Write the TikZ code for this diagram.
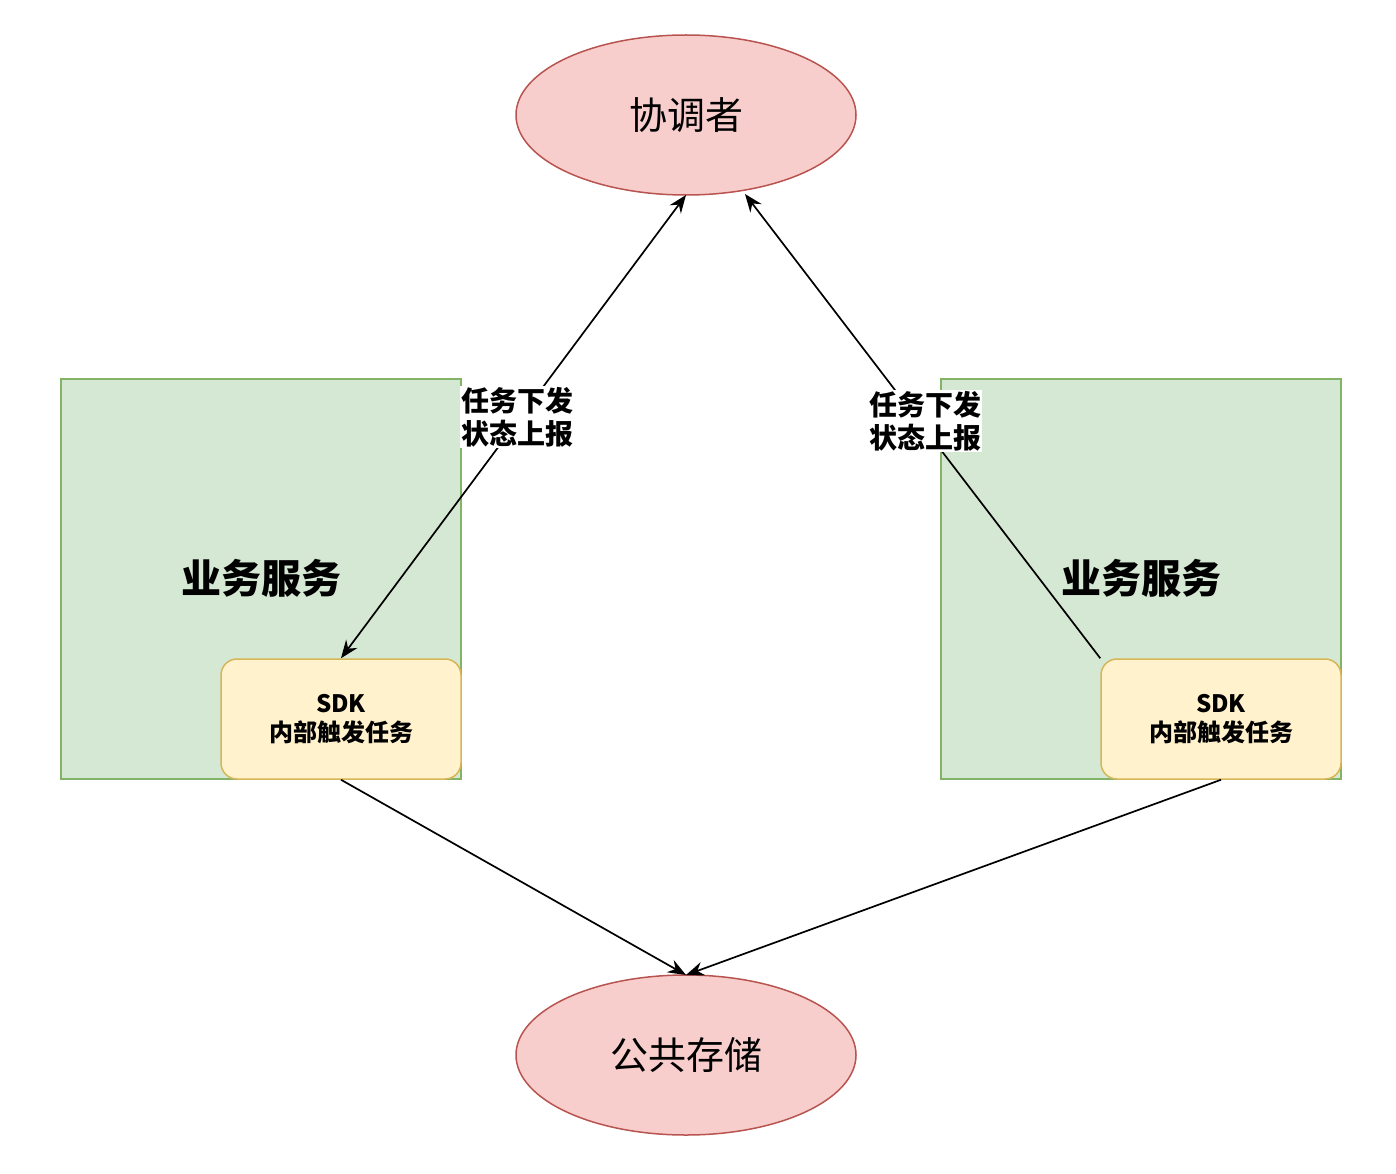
\documentclass[tikz,border=0pt]{standalone}
\usepackage{fontspec}
\setmainfont{Noto Sans CJK SC}
\newfontfamily\cjk{Noto Sans CJK SC}
\usetikzlibrary{arrows.meta,shapes.geometric}
\definecolor{redfill}{HTML}{F8CECC}
\definecolor{redline}{HTML}{B85450}
\definecolor{greenfill}{HTML}{D5E8D4}
\definecolor{greenline}{HTML}{82B366}
\definecolor{yellowfill}{HTML}{FFF2CC}
\definecolor{yellowline}{HTML}{D6B656}
\tikzset{
  oval/.style={ellipse, draw=redline, fill=redfill, line width=1.5pt, minimum width=340pt, minimum height=160pt, inner sep=0pt, font=\fontsize{38}{42}\selectfont},
  svcbox/.style={draw=greenline, fill=greenfill, line width=1.5pt, minimum width=400pt, minimum height=400pt, inner sep=0pt},
  sdkbox/.style={draw=yellowline, fill=yellowfill, line width=1.5pt, rounded corners=16pt, minimum width=240pt, minimum height=120pt, inner sep=0pt, align=center, font=\bfseries\fontsize{24}{29}\selectfont},
  svctext/.style={font=\bfseries\fontsize{40}{46}\selectfont},
  conn/.style={line width=1.7pt, -{Stealth[length=18pt,width=14pt,inset=6pt]}},
  lbl/.style={fill=white, inner sep=1pt, align=center, font=\bfseries\fontsize{28}{33}\selectfont}
}
\begin{document}
\begin{tikzpicture}[x=1pt,y=-1pt]
\useasboundingbox (0,0) rectangle (1396,1174);
\node[oval] (coord) at (686,115) {协调者};
\node[oval] (store) at (686,1055) {公共存储};
\node[svcbox] (svcL) at (261,579) {};
\node[svcbox] (svcR) at (1141,579) {};
\node[svctext] (svcLt) at (261,578) {业务服务};
\node[svctext] (svcRt) at (1141,578) {业务服务};
\node[sdkbox] (sdkL) at (341,719) {SDK\\内部触发任务};
\node[sdkbox] (sdkR) at (1221,719) {SDK\\内部触发任务};
\coordinate (cL) at (686,195);
\coordinate (cR) at (745,194);
\coordinate (sB) at (686,975);
\draw[conn, {Stealth[length=18pt,width=14pt,inset=6pt]}-{Stealth[length=18pt,width=14pt,inset=6pt]}] (sdkL.north) -- node[lbl, pos=0.52, xshift=-3pt] (lblL) {任务下发\\状态上报} (cL);
\draw[conn] (sdkR.north west) -- node[lbl, pos=0.51, xshift=6pt] (lblR) {任务下发\\状态上报} (cR);
\draw[conn] (sdkL.south) -- (sB);
\draw[conn] (sdkR.south) -- (sB);
\end{tikzpicture}
\end{document}
